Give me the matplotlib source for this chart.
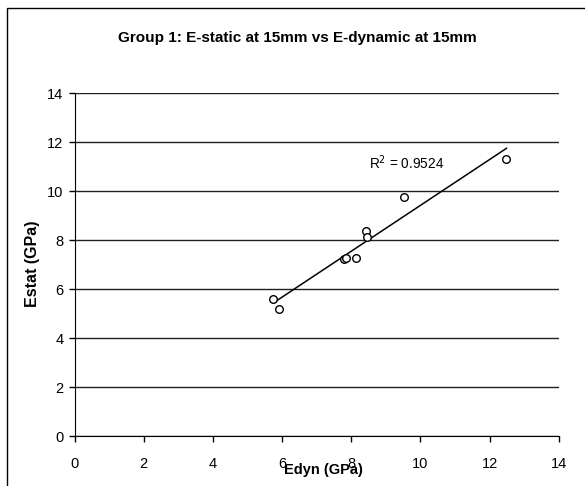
import numpy as np
import matplotlib.pyplot as plt
from matplotlib.patches import Rectangle

plt.rcParams['font.family'] = ['Liberation Sans', 'DejaVu Sans']

# Group 1 measurements (GPa)
edyn = [5.75, 5.91, 7.80, 7.84, 8.13, 8.42, 8.46, 9.53, 12.49]
estat = [5.59, 5.20, 7.22, 7.28, 7.26, 8.39, 8.12, 9.77, 11.32]
ticks = [0, 2, 4, 6, 8, 10, 12, 14]
r2_text = 'R$^2$ = 0.9524'

fig = plt.figure(figsize=(5.85, 4.86), dpi=100)
ax = fig.add_axes([0.1275, 0.1023, 0.8275, 0.7057])

# linear trendline over the data range
slope, icpt = np.polyfit(edyn, estat, 1)
xs = np.array([min(edyn), max(edyn)])
ax.plot(xs, slope * xs + icpt, color='black', lw=1.1, zorder=3)

ax.scatter(edyn, estat, s=30, facecolors='white', edgecolors='black',
           linewidths=1.0, zorder=4)

ax.text(8.52, 11.15, r2_text, fontsize=9.8, va='center', ha='left')

ax.set_xlim(0, 14)
ax.set_ylim(0, 14)
ax.set_xticks(ticks)
ax.set_yticks(ticks)
ax.tick_params(labelsize=10.5, length=4, width=1, direction='out')
ax.tick_params(axis='x', pad=11)
ax.tick_params(axis='y', pad=4)
ax.yaxis.grid(True, color='#222222', lw=1)
ax.set_axisbelow(True)
for s in ['top', 'right']:
    ax.spines[s].set_visible(False)

ax.set_xlabel('Edyn (GPa)', fontsize=10.5, fontweight='bold', va='center')
ax.xaxis.set_label_coords(0.514, -0.097)
ax.set_ylabel('Estat (GPa)', fontsize=11.5, fontweight='bold', va='center')
ax.yaxis.set_label_coords(-0.086, 0.504)

fig.text(0.508, 0.922, 'Group 1: E-static at 15mm vs E-dynamic at 15mm',
         ha='center', va='center', fontsize=11, fontweight='bold')

# chart area border (only top and left visible in the crop)
fig.patches.append(Rectangle((7 / 585, -0.2), 1.5, 1.2 - 8 / 486, fill=False,
                             edgecolor='black', lw=1, transform=fig.transFigure))

fig.savefig('out.png', dpi=100)
